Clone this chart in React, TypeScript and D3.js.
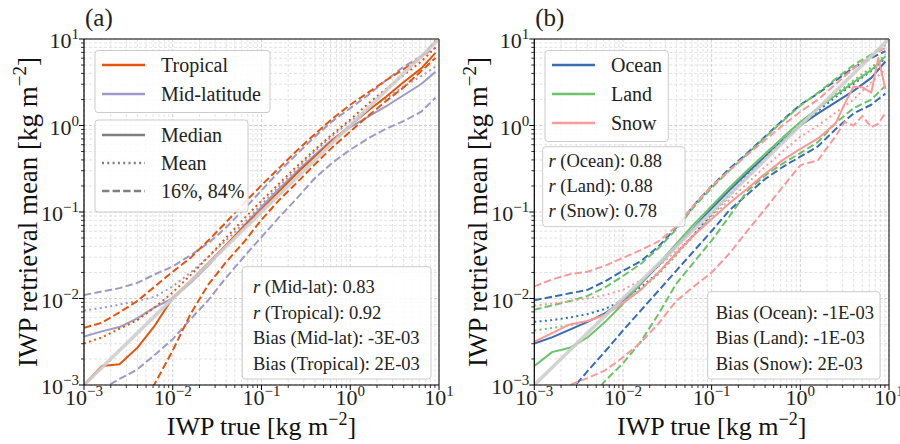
import React from "react";
import * as d3 from "d3";

// log10 of IWP true (x grid) for each panel
const gridA = [-3, -2.8, -2.6, -2.4, -2.2, -2.0, -1.8, -1.6, -1.4, -1.2, -1.0, -0.8, -0.6, -0.4, -0.2, 0, 0.2, 0.4, 0.6, 0.8, 0.96];
const gridB = [-3, -2.8, -2.6, -2.4, -2.2, -2.0, -1.8, -1.6, -1.4, -1.2, -1.0, -0.8, -0.6, -0.4, -0.2, 0, 0.2, 0.4, 0.5, 0.6, 0.7, 0.8, 0.88, 0.96];

// Panel (a): log10 of IWP retrieval
const tropMedian = [-3.0, -2.78, -2.76, -2.57, -2.31, -1.99, -1.8, -1.59, -1.38, -1.17, -0.97, -0.76, -0.55, -0.36, -0.17, 0.0, 0.17, 0.33, 0.5, 0.66, 0.84];
const tropMean = [-2.52, -2.45, -2.35, -2.25, -2.1, -1.93, -1.73, -1.52, -1.3, -1.08, -0.87, -0.67, -0.47, -0.28, -0.1, 0.07, 0.25, 0.42, 0.58, 0.74, 0.9];
const trop84 = [-2.34, -2.28, -2.16, -2.03, -1.86, -1.69, -1.53, -1.33, -1.12, -0.9, -0.69, -0.49, -0.29, -0.1, 0.08, 0.24, 0.38, 0.52, 0.65, 0.79, 0.98];
const trop16 = [null, null, null, -3.35, -2.98, -2.6, -2.18, -1.84, -1.58, -1.35, -1.09, -0.86, -0.66, -0.45, -0.25, -0.07, 0.11, 0.28, 0.44, 0.63, 0.78];
const midMedian = [-2.44, -2.38, -2.33, -2.23, -2.1, -2.0, -1.82, -1.62, -1.39, -1.16, -0.94, -0.73, -0.53, -0.34, -0.16, -0.02, 0.1, 0.22, 0.35, 0.48, 0.62];
const midMean = [-2.14, -2.11, -2.07, -2.03, -1.98, -1.86, -1.7, -1.52, -1.33, -1.13, -0.91, -0.7, -0.5, -0.3, -0.12, 0.05, 0.19, 0.31, 0.45, 0.57, 0.68];
const mid84 = [-1.96, -1.92, -1.88, -1.82, -1.72, -1.63, -1.5, -1.36, -1.18, -0.97, -0.75, -0.53, -0.33, -0.13, 0.05, 0.2, 0.35, 0.52, 0.68, 0.8, 0.9];
const mid16 = [-3.2, -3.05, -2.93, -2.82, -2.65, -2.47, -2.24, -2.02, -1.76, -1.52, -1.29, -1.06, -0.84, -0.61, -0.43, -0.28, -0.15, -0.04, 0.05, 0.16, 0.32];

// Panel (b)
const oceanMedian = [-2.52, -2.45, -2.36, -2.27, -2.17, -2.02, -1.83, -1.62, -1.4, -1.18, -0.96, -0.75, -0.55, -0.36, -0.17, 0.0, 0.14, 0.27, null, 0.4, null, 0.55, null, 0.74];
const oceanMean = [-2.27, -2.25, -2.22, -2.18, -2.12, -2.02, -1.87, -1.7, -1.48, -1.26, -1.02, -0.8, -0.58, -0.38, -0.18, 0.0, 0.17, 0.33, null, 0.48, null, 0.63, null, 0.78];
const ocean84 = [-2.02, -1.98, -1.94, -1.9, -1.8, -1.68, -1.57, -1.4, -1.18, -0.92, -0.7, -0.5, -0.32, -0.13, 0.06, 0.24, 0.37, 0.52, null, 0.67, null, 0.78, null, 0.86];
const ocean16 = [null, null, -3.08, -2.84, -2.61, -2.37, -2.14, -1.91, -1.68, -1.45, -1.22, -0.98, -0.8, -0.62, -0.48, -0.36, -0.24, -0.04, null, 0.14, null, 0.24, null, 0.37];
const landMedian = [-2.78, -2.62, -2.57, -2.45, -2.27, -2.06, -1.83, -1.6, -1.37, -1.14, -0.93, -0.72, -0.52, -0.33, -0.14, 0.04, 0.2, 0.35, null, 0.5, null, 0.64, null, 0.8];
const landMean = [-2.37, -2.34, -2.31, -2.26, -2.18, -2.05, -1.9, -1.72, -1.5, -1.27, -1.04, -0.82, -0.6, -0.38, -0.17, 0.02, 0.2, 0.37, null, 0.52, null, 0.67, null, 0.82];
const land84 = [-2.13, -2.08, -2.03, -1.97, -1.87, -1.74, -1.6, -1.42, -1.2, -0.94, -0.72, -0.52, -0.33, -0.14, 0.05, 0.23, 0.38, 0.54, null, 0.7, null, 0.82, null, 0.93];
const land16 = [null, null, null, -3.2, -2.95, -2.75, -2.5, -2.18, -1.83, -1.58, -1.33, -1.05, -0.76, -0.58, -0.44, -0.32, -0.19, 0.03, null, 0.2, null, 0.3, null, 0.46];
const snowMedian = [-2.5, -2.4, -2.3, -2.26, -2.19, -2.05, -1.9, -1.7, -1.48, -1.27, -1.08, -0.9, -0.73, -0.56, -0.4, -0.27, -0.15, 0.03, 0.25, 0.45, 0.44, 0.38, 0.78, 0.42];
const snowMean = [-2.08, -2.06, -2.03, -2.0, -1.96, -1.9, -1.79, -1.63, -1.45, -1.26, -1.06, -0.86, -0.67, -0.48, -0.3, -0.13, 0.0, 0.15, null, 0.3, null, 0.5, null, 0.65];
const snow84 = [-1.86, -1.78, -1.72, -1.69, -1.62, -1.53, -1.44, -1.34, -1.17, -0.92, -0.7, -0.52, -0.34, -0.17, 0.0, 0.16, 0.3, 0.48, null, 0.66, null, 0.8, null, 0.9];
const snow16 = [null, -3.1, -3.0, -2.92, -2.83, -2.68, -2.51, -2.29, -2.03, -1.86, -1.7, -1.48, -1.22, -0.97, -0.71, -0.46, -0.4, -0.12, 0.04, 0.0, 0.11, -0.02, 0.02, 0.15];

const decades = [-3, -2, -1, 0, 1];
const panelALegend = ["Tropical", "Mid-latitude"];
const panelBLegend = ["Ocean", "Land", "Snow"];
const styleLegend = ["Median", "Mean", "16%, 84%"];
const statsA = [
  { italic: true, label: " (Mid-lat): 0.83" },
  { italic: true, label: " (Tropical): 0.92" },
  { italic: false, label: "Bias (Mid-lat): -3E-03" },
  { italic: false, label: "Bias (Tropical): 2E-03" },
];
const statsBr = [" (Ocean): 0.88", " (Land): 0.88", " (Snow): 0.78"];
const statsBbias = ["Bias (Ocean): -1E-03", "Bias (Land): -1E-03", "Bias (Snow): 2E-03"];

const C = {
  trop: "#e6550d",
  mid: "#9e9ac8",
  ocean: "#3a6db3",
  land: "#6cc46a",
  snow: "#fb9a99",
  gray: "#808080",
  one: "#cfcfcf",
};
const FONT = "Liberation Serif";
const TOP = 39;
const BOTTOM = 385;
const DASH = "7.4 3.2";
const DOT = "2 3.3";

type Series = { grid: number[]; vals: (number | null)[]; color: string; dash?: string };

function Panel({ left, right, id, series, label }: { left: number; right: number; id: string; series: Series[]; label: string }) {
  const x = d3.scaleLog().domain([1e-3, 10]).range([left, right]);
  const y = d3.scaleLog().domain([1e-3, 10]).range([BOTTOM, TOP]);
  const minors: number[] = [];
  for (let d = -3; d < 1; d++) for (let m = 2; m <= 9; m++) minors.push(m * Math.pow(10, d));
  const majors = decades.map((d) => Math.pow(10, d));
  const line = (s: Series) => {
    const pts: [number, number][] = [];
    s.grid.forEach((g, i) => {
      const v = s.vals[i];
      if (v !== null && v !== undefined) pts.push([Math.pow(10, g), Math.pow(10, v)]);
    });
    return d3.line<[number, number]>().x((d) => x(d[0])).y((d) => y(d[1]))(pts) || "";
  };
  const expStr = (d: number) => (d < 0 ? "\u2212" + Math.abs(d) : String(d));
  return (
    <g>
      <defs>
        <clipPath id={id}>
          <rect x={left} y={TOP} width={right - left} height={BOTTOM - TOP} />
        </clipPath>
      </defs>
      <rect x={left} y={TOP} width={right - left} height={BOTTOM - TOP} fill="#fff" />
      {minors.map((v, i) => (
        <g key={"mn" + i}>
          <line x1={x(v)} x2={x(v)} y1={TOP} y2={BOTTOM} stroke="#dcdcdc" strokeWidth={0.8} strokeDasharray="3 2" />
          <line x1={left} x2={right} y1={y(v)} y2={y(v)} stroke="#dcdcdc" strokeWidth={0.8} strokeDasharray="3 2" />
        </g>
      ))}
      {majors.map((v, i) => (
        <g key={"mj" + i}>
          <line x1={x(v)} x2={x(v)} y1={TOP} y2={BOTTOM} stroke="#cfcfcf" strokeWidth={1} strokeDasharray="3 2" />
          <line x1={left} x2={right} y1={y(v)} y2={y(v)} stroke="#cfcfcf" strokeWidth={1} strokeDasharray="3 2" />
        </g>
      ))}
      <g clipPath={`url(#${id})`}>
        {series.map((s, i) => (
          <path key={i} d={line(s)} fill="none" stroke={s.color} strokeWidth={2} strokeDasharray={s.dash} strokeLinejoin="round" />
        ))}
        <line x1={x(1e-3)} y1={y(1e-3)} x2={x(10)} y2={y(10)} stroke={C.one} strokeWidth={3.5} opacity={0.9} />
      </g>
      {/* spines */}
      <line x1={left} x2={right} y1={TOP} y2={TOP} stroke="#555" strokeWidth={1.5} />
      <line x1={right} x2={right} y1={TOP} y2={BOTTOM} stroke="#555" strokeWidth={1.5} />
      <line x1={left} x2={left} y1={TOP} y2={BOTTOM} stroke="#000" strokeWidth={1.2} />
      <line x1={left} x2={right} y1={BOTTOM} y2={BOTTOM} stroke="#000" strokeWidth={1.2} />
      {minors.map((v, i) => (
        <g key={"tk" + i}>
          <line x1={x(v)} x2={x(v)} y1={BOTTOM} y2={BOTTOM + 3} stroke="#000" strokeWidth={0.8} />
          <line x1={left} x2={left - 3} y1={y(v)} y2={y(v)} stroke="#000" strokeWidth={0.8} />
        </g>
      ))}
      {decades.map((d, i) => {
        const v = Math.pow(10, d);
        return (
          <g key={"tl" + i}>
            <line x1={x(v)} x2={x(v)} y1={BOTTOM} y2={BOTTOM + 5} stroke="#000" strokeWidth={1} />
            <line x1={left} x2={left - 5} y1={y(v)} y2={y(v)} stroke="#000" strokeWidth={1} />
            <text x={x(v)} y={BOTTOM + 20} textAnchor="middle" fontFamily={FONT} fontSize={22} fill="#222">
              10<tspan fontSize={15} dy={-9}>{expStr(d)}</tspan>
            </text>
            <text x={left - 5} y={y(v) + 9} textAnchor="end" fontFamily={FONT} fontSize={22} fill="#222">
              10<tspan fontSize={15} dy={-9}>{expStr(d)}</tspan>
            </text>
          </g>
        );
      })}
      <text x={(left + right) / 2} y={435} textAnchor="middle" fontFamily={FONT} fontSize={26} fill="#111">
        IWP true [kg m<tspan fontSize={18} dy={-10}>{"\u22122"}</tspan>
        <tspan dy={10}>]</tspan>
      </text>
      <text transform={`translate(${left - 47},${(TOP + BOTTOM) / 2}) rotate(-90)`} textAnchor="middle" fontFamily={FONT} fontSize={27} fill="#111">
        IWP retrieval mean [kg m<tspan fontSize={19} dy={-11}>{"\u22122"}</tspan>
        <tspan dy={11}>]</tspan>
      </text>
      <text x={left + 1} y={26} fontFamily={FONT} fontSize={25} fill="#222">{label}</text>
    </g>
  );
}

function LegendBox({ x0, y0, w, h }: { x0: number; y0: number; w: number; h: number }) {
  return <rect x={x0} y={y0} width={w} height={h} rx={3} fill="#fff" fillOpacity={0.85} stroke="#cccccc" strokeWidth={1} />;
}

function LegendEntry({ x0, y0, color, dash, text }: { x0: number; y0: number; color: string; dash?: string; text: string }) {
  return (
    <g>
      <line x1={x0} x2={x0 + 43} y1={y0} y2={y0} stroke={color} strokeWidth={2.4} strokeDasharray={dash} />
      <text x={x0 + 59} y={y0 + 7} fontFamily={FONT} fontSize={20} fill="#222">{text}</text>
    </g>
  );
}

export default function App() {
  const aSeries: Series[] = [
    { grid: gridA, vals: midMedian, color: C.mid },
    { grid: gridA, vals: midMean, color: C.mid, dash: DOT },
    { grid: gridA, vals: mid84, color: C.mid, dash: DASH },
    { grid: gridA, vals: mid16, color: C.mid, dash: DASH },
    { grid: gridA, vals: tropMedian, color: C.trop },
    { grid: gridA, vals: tropMean, color: C.trop, dash: DOT },
    { grid: gridA, vals: trop84, color: C.trop, dash: DASH },
    { grid: gridA, vals: trop16, color: C.trop, dash: DASH },
  ];
  const bSeries: Series[] = [
    { grid: gridB, vals: oceanMedian, color: C.ocean },
    { grid: gridB, vals: oceanMean, color: C.ocean, dash: DOT },
    { grid: gridB, vals: ocean84, color: C.ocean, dash: DASH },
    { grid: gridB, vals: ocean16, color: C.ocean, dash: DASH },
    { grid: gridB, vals: landMedian, color: C.land },
    { grid: gridB, vals: landMean, color: C.land, dash: DOT },
    { grid: gridB, vals: land84, color: C.land, dash: DASH },
    { grid: gridB, vals: land16, color: C.land, dash: DASH },
    { grid: gridB, vals: snowMedian, color: C.snow },
    { grid: gridB, vals: snowMean, color: C.snow, dash: DOT },
    { grid: gridB, vals: snow84, color: C.snow, dash: DASH },
    { grid: gridB, vals: snow16, color: C.snow, dash: DASH },
  ];
  const aColors = [C.trop, C.mid];
  const bColors = [C.ocean, C.land, C.snow];
  const styleDash = [undefined, DOT, DASH];
  return (
    <svg width={900} height={444} style={{ position: "absolute", left: 0, top: 0, background: "#fff" }}>
      <rect width={900} height={444} fill="#fff" />
      <Panel left={84} right={439} id="clipA" series={aSeries} label="(a)" />
      <Panel left={534.3} right={889} id="clipB" series={bSeries} label="(b)" />

      {/* Panel a legends */}
      <LegendBox x0={95} y0={50.5} w={175} h={62} />
      {panelALegend.map((t, i) => (
        <LegendEntry key={t} x0={102} y0={65 + i * 29} color={aColors[i]} text={t} />
      ))}
      <LegendBox x0={95} y0={120} w={153} h={92} />
      {styleLegend.map((t, i) => (
        <LegendEntry key={t} x0={102} y0={135 + i * 28} color={C.gray} dash={styleDash[i]} text={t} />
      ))}
      <LegendBox x0={242.3} y0={266.7} w={188.7} h={112.3} />
      {statsA.map((s, i) => (
        <text key={i} x={253} y={293 + i * 25.7} fontFamily={FONT} fontSize={18.5} fill="#222">
          {s.italic ? (
            <>
              <tspan fontStyle="italic">r</tspan>
              {s.label}
            </>
          ) : (
            s.label
          )}
        </text>
      ))}

      {/* Panel b legends */}
      <LegendBox x0={545} y0={50.5} w={123.3} h={91} />
      {panelBLegend.map((t, i) => (
        <LegendEntry key={t} x0={552} y0={65 + i * 29} color={bColors[i]} text={t} />
      ))}
      <LegendBox x0={542.7} y0={146.7} w={142.3} h={80} />
      {statsBr.map((t, i) => (
        <text key={i} x={548.5} y={167 + i * 25} fontFamily={FONT} fontSize={18.5} fill="#222">
          <tspan fontStyle="italic">r</tspan>
          {t}
        </text>
      ))}
      <LegendBox x0={707.7} y0={291.7} w={172.3} h={87.3} />
      {statsBbias.map((t, i) => (
        <text key={i} x={715.7} y={318.5 + i * 25.7} fontFamily={FONT} fontSize={18.5} fill="#222">
          {t}
        </text>
      ))}
    </svg>
  );
}
